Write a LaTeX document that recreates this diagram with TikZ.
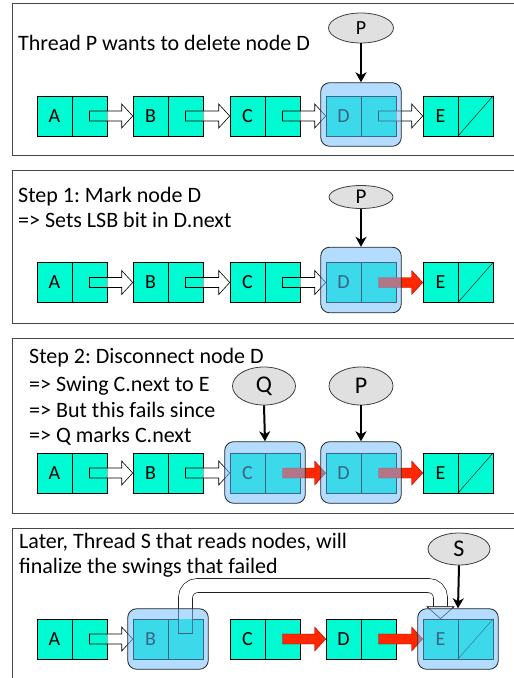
\documentclass[tikz,border=0pt]{standalone}
\usepackage{fontspec}
\setmainfont{Carlito}
\frenchspacing
\usetikzlibrary{calc,fit,arrows.meta,shapes.geometric}
\definecolor{cyanfill}{RGB}{0,250,210}
\definecolor{hlblue}{RGB}{113,189,255}
\definecolor{ellgray}{RGB}{224,224,224}
\definecolor{redarrow}{RGB}{255,40,0}
\definecolor{framegray}{RGB}{70,70,70}
\tikzset{
  cell/.style={draw=black, line width=0.6pt, fill=cyanfill, minimum width=35pt, minimum height=40pt, inner sep=0pt, font=\fontsize{20}{20}\selectfont},
  thread/.style={ellipse, draw=black!75, fill=ellgray, line width=0.8pt, inner sep=0pt},
  hlbox/.style={draw=black!85, line width=0.8pt, fill=hlblue, fill opacity=0.53, rounded corners=9pt, inner sep=0pt},
  txt/.style={anchor=base west, inner sep=0pt, font=\fontsize{22}{22}\selectfont},
  blk/.style={to path={let \p1=(\tikztostart), \p2=(\tikztotarget) in
    (\x1,\y1+5pt) -- (\x2-11pt,\y1+5pt) -- (\x2-11pt,\y1+12pt) -- (\x2,\y1) -- (\x2-11pt,\y1-12pt) -- (\x2-11pt,\y1-5pt) -- (\x1,\y1-5pt) -- cycle}},
  shaft/.style={to path={let \p1=(\tikztostart), \p2=(\tikztotarget) in
    (\x1,\y1+5pt) rectangle (\x2,\y1-5pt)}},
  whiteblk/.style={draw=black, line width=0.6pt},
  redblk/.style={fill=redarrow, draw=red!70!black, line width=0.4pt},
  ptr/.style={line width=2pt, -{Stealth[length=10pt,width=11pt,inset=3pt]}},
  frame/.style={draw=framegray, line width=1pt},
  uarrow/.style={draw=black, line width=0.6pt, double=white, double distance=13.4pt, rounded corners=12pt}
}
\newcommand{\lnode}[4]{%
  \node[cell] (#1l) at ({#2+17.5},#3) {#4};
  \node[cell] (#1r) at ({#2+52.5},#3) {};}
\newcommand{\hlnode}[4]{%
  \node[hlbox, fit={($(#2.north west)+(-5,-#4)$) ($(#3.south east)+(5,10)$)}] (#1) {};}
\newcommand{\warrow}[2]{%
  \fill[cyanfill] (#1.center) to[shaft] (#1.east);
  \fill[white] (#1.east) to[blk] (#2.west);
  \draw[whiteblk] (#1.center) to[blk] (#2.west);}
\newcommand{\rarrow}[2]{%
  \draw[redblk] (#1.center) to[blk] (#2.west);}
\begin{document}
\begin{tikzpicture}[x=1pt,y=-1pt]
\useasboundingbox (0,0) rectangle (514,678);
\clip (0,0) rectangle (514,678);
% frames
\draw[frame] (12,3) rectangle (530,155);
\draw[frame] (12,170) rectangle (530,323);
\draw[frame] (12,338) rectangle (530,513);
\draw[frame] (12,528) rectangle (530,700);

% ---------- panel 1
\node[txt] (t1) at (18,50) {Thread P wants to delete node D};
\lnode{A1}{37}{116}{A}
\lnode{B1}{133}{116}{B}
\lnode{C1}{230}{116}{C}
\lnode{D1}{326}{116}{D}
\lnode{E1}{423}{116}{E}
\draw (E1r.south west) -- (E1r.north east);
\warrow{A1r}{B1l}
\warrow{B1r}{C1l}
\warrow{C1r}{D1l}
\warrow{D1r}{E1l}
\hlnode{D1h}{D1l}{D1r}{13}
\node[thread, minimum width=65pt, minimum height=30pt, font=\fontsize{20}{20}\selectfont] (P1) at (361,28) {P};
\draw[ptr] (P1.south) -- (D1h.north);

% ---------- panel 2
\node[txt] (t2a) at (18,202) {Step 1: Mark node D};
\node[txt] (t2b) at (18,227) {=> Sets LSB bit in D.next};
\lnode{A2}{37}{282.5}{A}
\lnode{B2}{133}{282.5}{B}
\lnode{C2}{230}{282.5}{C}
\lnode{D2}{326}{282.5}{D}
\lnode{E2}{423}{282.5}{E}
\draw (E2r.south west) -- (E2r.north east);
\warrow{A2r}{B2l}
\warrow{B2r}{C2l}
\warrow{C2r}{D2l}
\rarrow{D2r}{E2l}
\hlnode{D2h}{D2l}{D2r}{15}
\node[thread, minimum width=64pt, minimum height=23pt, font=\fontsize{21}{21}\selectfont] (P2) at (361,197) {P};
\draw[ptr] (P2.south) -- (D2h.north);

% ---------- panel 3
\node[txt] (t3a) at (29,363) {Step 2: Disconnect node D};
\node[txt] (t3b) at (29,391) {=> Swing C.next to E};
\node[txt] (t3c) at (29,417) {=> But this fails since};
\node[txt] (t3d) at (29,442) {=> Q marks C.next};
\lnode{A3}{37}{473}{A}
\lnode{B3}{133}{473}{B}
\lnode{C3}{230}{473}{C}
\lnode{D3}{326}{473}{D}
\lnode{E3}{423}{473}{E}
\draw (E3r.south west) -- (E3r.north east);
\warrow{A3r}{B3l}
\warrow{B3r}{C3l}
\rarrow{C3r}{D3l}
\rarrow{D3r}{E3l}
\hlnode{C3h}{C3l}{C3r}{11}
\hlnode{D3h}{D3l}{D3r}{11}
\node[thread, minimum width=63pt, minimum height=38pt, font=\fontsize{24}{24}\selectfont] (Q3) at (264,386) {Q};
\node[thread, minimum width=64pt, minimum height=38pt, font=\fontsize{24}{24}\selectfont] (P3) at (361,386) {P};
\draw[ptr] (Q3.south) -- (C3h.north);
\draw[ptr] (P3.south) -- (D3h.north);

% ---------- panel 4
\node[txt] (t4a) at (19,548) {Later, Thread S that reads nodes, will};
\node[txt] (t4b) at (19,573) {finalize the swings that failed};
\lnode{A4}{37}{639}{A}
\lnode{B4}{133}{639}{B}
\lnode{C4}{230}{639}{C}
\lnode{D4}{326}{639}{D}
\lnode{E4}{423}{639}{E}
\draw (E4r.south west) -- (E4r.north east);
\warrow{A4r}{B4l}
\rarrow{C4r}{D4l}
\rarrow{D4r}{E4l}
\coordinate (ustart) at ($(B4r.center)+(0,-6)$);
\coordinate (uend) at ($(E4l.north)+(0,-12)$);
\coordinate (utop) at (300,585.5);
\draw[uarrow] (ustart) -- (ustart |- utop) -- (uend |- utop) -- (uend);
\fill[cyanfill] ($(ustart)+(-6.7,0)$) rectangle ($(B4r.north)+(6.7,0)$);
\draw[line width=0.6pt] ($(ustart)+(-7.3,0)$) -- ($(ustart)+(7.3,0)$);
\draw[line width=0.6pt, fill=white] ($(uend)+(-13.5,0)$) -- (E4l.north) -- ($(uend)+(13.5,0)$) -- cycle;
\hlnode{B4h}{B4l}{B4r}{10}
\hlnode{E4h}{E4l}{E4r}{10}
\node[thread, minimum width=62pt, minimum height=32pt, font=\fontsize{24}{24}\selectfont] (S4) at (459,549) {S};
\draw[ptr] (S4.south) -- (E4h.north);
\end{tikzpicture}
\end{document}
